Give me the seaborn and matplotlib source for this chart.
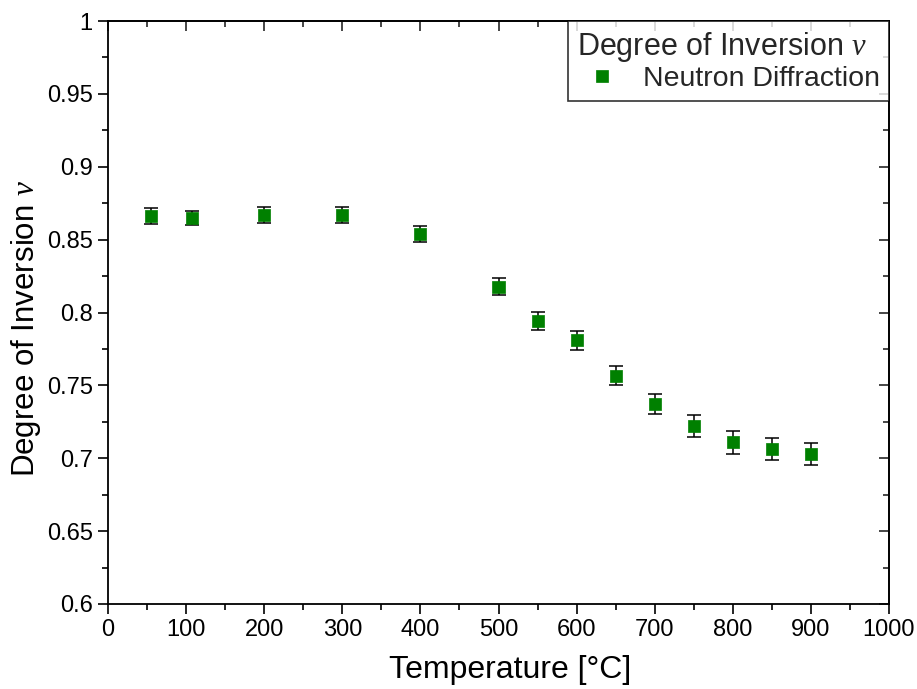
import matplotlib
matplotlib.use("Agg")
import matplotlib.pyplot as plt
import seaborn as sns
import pandas as pd
from matplotlib.ticker import MultipleLocator, FuncFormatter

temperature = [55, 108, 200, 300, 400, 500, 550, 600, 650, 700, 750, 800, 850, 900]
inversion = [0.8662, 0.8648, 0.8669, 0.8671, 0.8541, 0.8177, 0.7942, 0.7811,
             0.7566, 0.7372, 0.7223, 0.7109, 0.7063, 0.7031]
inversion_err = [0.0053, 0.0051, 0.0053, 0.0054, 0.0055, 0.0060, 0.0063, 0.0065,
                 0.0066, 0.0067, 0.0074, 0.0079, 0.0074, 0.0074]
series_name = "Neutron Diffraction"
legend_title = r"Degree of Inversion $\nu$"
x_label = "Temperature [°C]"
y_label = r"Degree of Inversion $\nu$"

sns.set_theme(style="ticks")
plt.rcParams["font.family"] = ["Liberation Sans", "DejaVu Sans"]
plt.rcParams["mathtext.fontset"] = "custom"
plt.rcParams["mathtext.it"] = "Liberation Serif:italic"
plt.rcParams["mathtext.rm"] = "Liberation Sans"

df = pd.DataFrame({"T": temperature, "v": inversion, "err": inversion_err,
                   "series": series_name})

fig = plt.figure(figsize=(9.17, 6.89), dpi=100)
ax = fig.add_axes([108 / 917, 85 / 689, (889 - 108) / 917, (604 - 21) / 689])

green = "#008000"
ax.errorbar(df["T"], df["v"], yerr=df["err"], fmt="none", ecolor="black",
            elinewidth=1.1, capsize=5, capthick=1.1, zorder=2)
sns.scatterplot(data=df, x="T", y="v", hue="series", palette=[green],
                marker="s", s=75, edgecolor=green, linewidth=0.5, ax=ax, zorder=3)

ax.set_xlim(0, 1000)
ax.set_ylim(0.6, 1.0)
ax.xaxis.set_major_locator(MultipleLocator(100))
ax.xaxis.set_minor_locator(MultipleLocator(50))
ax.yaxis.set_major_locator(MultipleLocator(0.05))
ax.yaxis.set_minor_locator(MultipleLocator(0.025))
ax.yaxis.set_major_formatter(FuncFormatter(lambda v, p: f"{v:g}"))

for s in ax.spines.values():
    s.set_visible(True)
    s.set_linewidth(1.3)
    s.set_color("black")

ax.tick_params(which="major", direction="out", length=7, width=1.2,
               labelsize=17, colors="black", pad=4)
ax.tick_params(which="minor", direction="out", length=4, width=1.2, colors="black")

# mirrored inward ticks on top and right
secx = ax.secondary_xaxis("top")
secx.xaxis.set_major_locator(MultipleLocator(100))
secx.xaxis.set_minor_locator(MultipleLocator(50))
secx.tick_params(which="major", direction="in", length=7, width=1.2, labeltop=False)
secx.tick_params(which="minor", direction="in", length=4, width=1.2)
secx.spines["top"].set_linewidth(1.3)
secy = ax.secondary_yaxis("right")
secy.yaxis.set_major_locator(MultipleLocator(0.05))
secy.yaxis.set_minor_locator(MultipleLocator(0.025))
secy.tick_params(which="major", direction="in", length=7, width=1.2, labelright=False)
secy.tick_params(which="minor", direction="in", length=4, width=1.2)
secy.spines["right"].set_linewidth(1.3)

ax.set_xlabel(x_label, fontsize=23, color="black")
ax.set_ylabel(y_label, fontsize=22.5, color="black")
ax.xaxis.set_label_coords(0.515, -0.088)
ax.yaxis.set_label_coords(-0.083, 0.472)

leg = ax.legend(title=legend_title, loc="upper right", borderaxespad=0,
                fontsize=20.5, title_fontsize=22, frameon=True, fancybox=False,
                edgecolor="black", markerscale=1.0, handletextpad=0.55,
                handlelength=1.8, borderpad=0.3, labelspacing=0.1)
leg._legend_box.align = "left"
leg.get_frame().set_linewidth(1.2)

fig.savefig("out.png", dpi=100)
